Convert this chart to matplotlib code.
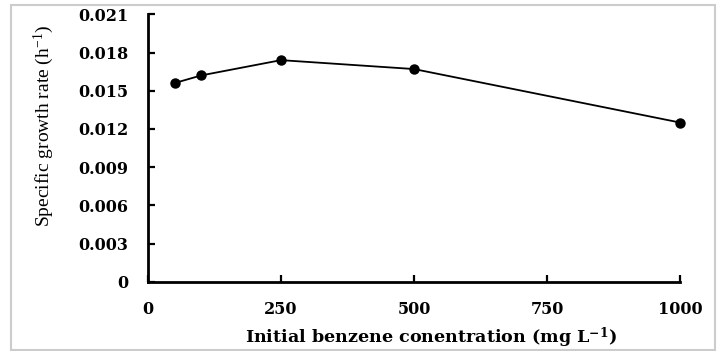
import matplotlib
matplotlib.use("Agg")
import matplotlib.pyplot as plt
from matplotlib.patches import Rectangle

plt.rcParams['font.family'] = ['Liberation Serif', 'DejaVu Serif']
plt.rcParams['mathtext.fontset'] = 'custom'
plt.rcParams['mathtext.rm'] = 'Liberation Serif'
plt.rcParams['mathtext.bf'] = 'DejaVu Serif:bold'
plt.rcParams['mathtext.it'] = 'Liberation Serif:italic'

concentration = [50, 100, 250, 500, 1000]
growth_rate = [0.0156, 0.0162, 0.0174, 0.0167, 0.0125]
x_ticks = [0, 250, 500, 750, 1000]
x_tick_labels = ['0', '250', '500', '750', '1000']
y_ticks = [0, 0.003, 0.006, 0.009, 0.012, 0.015, 0.018, 0.021]
y_tick_labels = ['0', '0.003', '0.006', '0.009', '0.012', '0.015', '0.018', '0.021']

W, H = 719, 351
fig = plt.figure(figsize=(W / 100, H / 100), dpi=100)
fig.patch.set_facecolor('white')

left, right, top, bottom = 148, 680, 14.3, 281.7
ax = fig.add_axes([left / W, 1 - bottom / H, (right - left) / W, (bottom - top) / H])

ax.plot(concentration, growth_rate, color='black', lw=1.3, marker='o',
        markersize=6.5, markerfacecolor='black', markeredgecolor='black', clip_on=False)

bold_font = dict(family='DejaVu Serif', weight='bold', size=11.5)
ax.set_xlim(0, 1000)
ax.set_ylim(0, 0.021)
ax.set_xticks(x_ticks)
ax.set_xticklabels(x_tick_labels, fontdict=bold_font)
ax.set_yticks(y_ticks)
ax.set_yticklabels(y_tick_labels, fontdict=bold_font)

for s in ['top', 'right']:
    ax.spines[s].set_visible(False)
for s in ['left', 'bottom']:
    ax.spines[s].set_linewidth(2.0)

ax.tick_params(axis='both', direction='in', length=5, width=1.6)
ax.tick_params(axis='x', pad=14)
ax.tick_params(axis='y', pad=14)

ax.set_xlabel(r'Initial benzene conentration (mg L$^{\mathbf{-1}}$)',
              fontdict=dict(family='DejaVu Serif', weight='bold', size=12.6))
ax.xaxis.set_label_coords((431 - left) / (right - left), (bottom - 338) / (bottom - top))
ax.xaxis.label.set_va('center')

ax.set_ylabel(r'Specific growth rate (h$^{-1}$)',
              fontdict=dict(family='Liberation Serif', weight='normal', size=14))
ax.yaxis.set_label_coords((44 - left) / (right - left), (bottom - 126) / (bottom - top))
ax.yaxis.label.set_va('center')

fig.patches.append(Rectangle((11 / W, 1 - 350 / H), (715 - 11) / W, (350 - 5) / H,
                             transform=fig.transFigure, fill=False,
                             edgecolor='#cccccc', linewidth=1.5))

fig.savefig('out.png', dpi=100, facecolor='white')
